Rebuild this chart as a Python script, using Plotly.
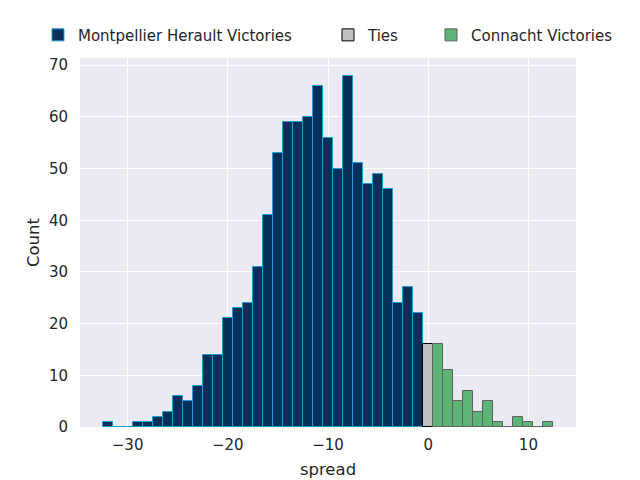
import plotly.graph_objects as go

# bin centres (spread) and counts
mh_spread = list(range(-32, 0))
mh_counts = [1, 0, 0, 1, 1, 2, 3, 6, 5, 8, 14, 14, 21, 23, 24, 31,
             41, 53, 59, 59, 60, 66, 56, 50, 68, 51, 47, 49, 46, 24, 27, 22]
tie_spread = [0]
tie_counts = [16]
con_spread = list(range(1, 13))
con_counts = [16, 11, 5, 7, 3, 5, 1, 0, 2, 1, 0, 1]

x_ticks = [-30, -20, -10, 0, 10]
y_ticks = [0, 10, 20, 30, 40, 50, 60, 70]

FONT = "DejaVu Sans"
TXT = "#262626"

fig = go.Figure()
fig.add_trace(go.Bar(x=mh_spread, y=mh_counts, width=1,
                     name="Montpellier Herault Victories", legendwidth=245,
                     marker=dict(color="#06305a", line=dict(color="#1f9ad6", width=1))))
fig.add_trace(go.Bar(x=tie_spread, y=tie_counts, width=1, name="Ties", legendwidth=58,
                     marker=dict(color="#c0c0c0", line=dict(color="#000000", width=1))))
fig.add_trace(go.Bar(x=con_spread, y=con_counts, width=1, name="Connacht Victories",
                     legendwidth=141,
                     marker=dict(color="#5eb476", line=dict(color="#606060", width=1))))

fig.update_layout(
    width=640, height=480,
    paper_bgcolor="white", plot_bgcolor="#eaeaf2",
    margin=dict(l=80, r=64, t=58, b=53, autoexpand=False),
    barmode="overlay", bargap=0,
    font=dict(family=FONT, size=15, color=TXT),
    legend=dict(orientation="h", x=-0.0847, xanchor="left", y=1.062, yanchor="middle",
                font=dict(size=15, color=TXT), bgcolor="rgba(0,0,0,0)"),
    xaxis=dict(range=[-34.75, 14.75], tickvals=x_ticks, showgrid=True, gridcolor="white",
               gridwidth=1.3, zeroline=False, ticks="", showline=False,
               ticklabelstandoff=7,
               title=dict(text="spread", font=dict(size=16.5, color=TXT), standoff=10)),
    yaxis=dict(range=[0, 71.4], tickvals=y_ticks, showgrid=True, gridcolor="white",
               gridwidth=1.3, zeroline=False, ticks="", showline=False,
               ticklabelstandoff=11,
               title=dict(text="Count", font=dict(size=16.5, color=TXT), standoff=5)),
)

fig.write_html("out.html", config={"displayModeBar": False},
               post_script="document.body.style.margin='0';")
